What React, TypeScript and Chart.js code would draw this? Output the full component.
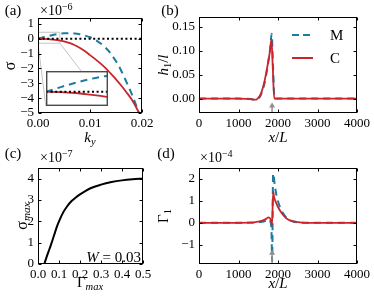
import React, { useEffect, useRef } from "react";
import { Chart, registerables } from "chart.js";

Chart.register(...registerables);

const W = 374;
const H = 299;
const FONT = "'Liberation Serif', 'Times New Roman', Times, serif";
const RED = "#c9252b";
const BLUE = "#1d7b9e";
const GREY_LINE = "#c4c4c4";
const ARROW_GREY = "#8e8e8e";

// ---------- Panel (a): sigma (x1e-6) vs k_y
const kY = [0, 0.001, 0.002, 0.003, 0.004, 0.005, 0.006, 0.007, 0.008, 0.009, 0.01, 0.011, 0.012, 0.013, 0.014, 0.015, 0.016, 0.017, 0.018, 0.019, 0.02];
const sigmaC = [0, -0.005, -0.025, -0.06, -0.1, -0.17, -0.28, -0.42, -0.6, -0.82, -1.1, -1.37, -1.66, -1.98, -2.35, -2.73, -3.15, -3.6, -4.08, -4.7, -5.4];
const sigmaM = [0, 0.1, 0.19, 0.27, 0.33, 0.37, 0.38, 0.36, 0.31, 0.22, 0.1, -0.07, -0.3, -0.6, -1.0, -1.52, -2.15, -2.9, -3.7, -4.6, -5.6];
const zeroLineK = [0, 0.02];
const kTicks = [0, 0.01, 0.02];
const sigmaTicks = [-5, -4, -3, -2, -1, 0, 1];
const zoomBoxK = [0, 0.0042];
const zoomBoxSigma = [-0.3, 0.44];
const insetK = [0.0015, 0.0135];
const insetSigma = [-4.53, -2.17];

// ---------- Panel (b): h1/l vs x/L
const xC_b = [0, 1000, 1200, 1300, 1400, 1450, 1500, 1550, 1600, 1650, 1700, 1750, 1800, 1833, 1870, 1905, 2000, 3000, 4000];
const h1C = [0, 0, -0.0005, -0.001, -0.0022, -0.002, 0.0015, 0.007, 0.018, 0.033, 0.053, 0.076, 0.101, 0.124, 0.06, 0, 0, 0, 0];
const xM_b = [0, 1000, 1200, 1300, 1400, 1450, 1500, 1550, 1600, 1650, 1700, 1750, 1800, 1840, 1875, 1910, 2000, 4000];
const h1M = [0, 0, -0.0005, -0.001, -0.0022, -0.002, 0, 0.005, 0.015, 0.029, 0.049, 0.074, 0.103, 0.135, 0.065, 0, 0, 0];
const xLTicks = [0, 1000, 2000, 3000, 4000];
const h1Ticks = [0, 0.05, 0.1, 0.15];
const arrowX = 1850;
const arrowB = [-0.03, -0.008];

// ---------- Panel (c): sigma_max (x1e-7) vs Gamma_max
const gammaMax = [0.03, 0.04, 0.05, 0.06, 0.07, 0.08, 0.09, 0.1, 0.12, 0.14, 0.16, 0.18, 0.2, 0.25, 0.3, 0.35, 0.4, 0.45, 0.5];
const sigmaMax = [0, 0.3, 0.58, 0.85, 1.15, 1.45, 1.75, 2.0, 2.42, 2.72, 2.95, 3.12, 3.26, 3.55, 3.72, 3.84, 3.92, 3.97, 4.0];
const gammaTicks = [0, 0.1, 0.2, 0.3, 0.4, 0.5];
const sigmaMaxTicks = [0, 1, 2, 3, 4];

// ---------- Panel (d): Gamma_1 (x1e-4) vs x/L
const xC_d = [0, 1000, 1300, 1400, 1500, 1600, 1700, 1760, 1800, 1830, 1848, 1878, 1900, 1950, 2000, 2100, 2200, 2300, 2400, 2500, 2700, 4000];
const gamma1C = [0, 0, 0.005, 0.02, 0.05, 0.1, 0.18, 0.25, 0.2, 0.05, -0.12, 1.42, 1.18, 0.92, 0.72, 0.42, 0.22, 0.11, 0.06, 0.03, 0, 0];
const xM_d = [0, 1000, 1400, 1600, 1700, 1780, 1810, 1835, 1852, 1876, 1920, 1960, 2000, 2050, 2100, 2170, 2250, 2380, 2500, 2700, 4000];
const gamma1M = [0, 0, 0.01, 0.05, 0.1, 0.15, 0.05, -0.4, -1.75, 2.25, 1.7, 1.25, 0.98, 0.72, 0.52, 0.33, 0.18, 0.06, 0.02, 0, 0];
const gamma1Ticks = [-1, 0, 1, 2];
const arrowD = [-1.88, -1.23];

type Area = { L: number; T: number; R: number; B: number };
const areaA: Area = { L: 38, T: 18, R: 142, B: 113 };
const areaB: Area = { L: 199, T: 17, R: 357, B: 113 };
const areaC: Area = { L: 38, T: 168, R: 143, B: 264 };
const areaD: Area = { L: 199, T: 168, R: 357, B: 264 };

const minus = (v: number) => (v < 0 ? "\u2212" + Math.abs(v) : String(v));

const pts = (xs: number[], ys: number[]) => xs.map((x, i) => ({ x, y: ys[i] }));

function ds(data: any[], color: string, width: number, dash: number[] = [], order = 1) {
  return {
    data,
    borderColor: color,
    borderWidth: width,
    borderDash: dash,
    pointRadius: 0,
    fill: false,
    cubicInterpolationMode: "monotone",
    clip: 0,
    order,
  };
}

function axis(isX: boolean, area: Area, min: number, max: number, ticks: number[], fmt: (v: number) => string) {
  return {
    type: "linear",
    position: isX ? "bottom" : "left",
    min,
    max,
    grid: { display: false, drawTicks: false },
    border: { display: false },
    ticks: {
      color: "#000",
      font: { family: FONT, size: 13 },
      padding: isX ? 3 : 4,
      maxRotation: 0,
      minRotation: 0,
      autoSkip: false,
      callback: (v: number) => fmt(v),
    },
    afterBuildTicks: (s: any) => {
      s.ticks = ticks.map((v) => ({ value: v }));
    },
    afterFit: (s: any) => {
      if (isX) s.height = H - area.B;
      else s.width = area.L;
    },
  };
}

function baseOptions(area: Area, x: any, y: any) {
  return {
    responsive: false,
    animation: false,
    devicePixelRatio: 1,
    events: [],
    layout: { padding: { left: 0, top: area.T, right: W - area.R, bottom: 0 } },
    plugins: { legend: { display: false }, tooltip: { enabled: false }, title: { display: false } },
    scales: { x, y },
  };
}

const boxPlugin = {
  id: "matlabBox",
  afterDraw(chart: any) {
    const { ctx, chartArea: a, scales } = chart;
    const l = Math.round(a.left) + 0.5;
    const r = Math.round(a.right) - 0.5;
    const t = Math.round(a.top) + 0.5;
    const b = Math.round(a.bottom) - 0.5;
    const tl = 3;
    ctx.save();
    ctx.strokeStyle = "#000";
    ctx.lineWidth = 1;
    ctx.setLineDash([]);
    ctx.strokeRect(l, t, r - l, b - t);
    ctx.beginPath();
    scales.x.ticks.forEach((tk: any) => {
      const p = Math.round(scales.x.getPixelForValue(tk.value)) + 0.5;
      ctx.moveTo(p, b);
      ctx.lineTo(p, b - tl);
      ctx.moveTo(p, t);
      ctx.lineTo(p, t + tl);
    });
    scales.y.ticks.forEach((tk: any) => {
      const p = Math.round(scales.y.getPixelForValue(tk.value)) + 0.5;
      ctx.moveTo(l, p);
      ctx.lineTo(l + tl, p);
      ctx.moveTo(r, p);
      ctx.lineTo(r - tl, p);
    });
    ctx.stroke();
    ctx.restore();
  },
};

function arrowPlugin(xVal: number, yRange: number[]) {
  return {
    id: "arrow",
    afterDatasetsDraw(chart: any) {
      const { ctx, scales } = chart;
      const px = scales.x.getPixelForValue(xVal);
      const p0 = scales.y.getPixelForValue(yRange[0]);
      const p1 = scales.y.getPixelForValue(yRange[1]);
      ctx.save();
      ctx.strokeStyle = ARROW_GREY;
      ctx.fillStyle = ARROW_GREY;
      ctx.lineWidth = 1.5;
      ctx.beginPath();
      ctx.moveTo(px, p0);
      ctx.lineTo(px, p1 + 4);
      ctx.stroke();
      ctx.beginPath();
      ctx.moveTo(px, p1);
      ctx.lineTo(px - 3, p1 + 5);
      ctx.lineTo(px + 3, p1 + 5);
      ctx.closePath();
      ctx.fill();
      ctx.restore();
    },
  };
}

const legendItems = [
  { label: "M", color: BLUE, dash: [7, 4], dy: 18 },
  { label: "C", color: RED, dash: [] as number[], dy: 41 },
];

const legendPlugin = {
  id: "legendB",
  afterDraw(chart: any) {
    const { ctx, chartArea: a } = chart;
    ctx.save();
    legendItems.forEach((it) => {
      ctx.beginPath();
      ctx.setLineDash(it.dash);
      ctx.strokeStyle = it.color;
      ctx.lineWidth = 2;
      ctx.moveTo(a.left + 93, a.top + it.dy);
      ctx.lineTo(a.left + 114, a.top + it.dy);
      ctx.stroke();
      ctx.setLineDash([]);
      ctx.fillStyle = "#000";
      ctx.font = `15px ${FONT}`;
      ctx.textBaseline = "middle";
      ctx.textAlign = "left";
      ctx.fillText(it.label, a.left + 131, a.top + it.dy + 1);
    });
    ctx.restore();
  },
};

const insetFramePlugin = {
  id: "insetFrame",
  beforeDraw(chart: any) {
    const { ctx, width, height } = chart;
    ctx.save();
    ctx.fillStyle = "#fff";
    ctx.fillRect(0, 0, width, height);
    ctx.restore();
  },
  afterDraw(chart: any) {
    const { ctx, width, height } = chart;
    ctx.save();
    ctx.strokeStyle = "#4a4a4a";
    ctx.lineWidth = 1.4;
    ctx.strokeRect(0.7, 0.7, width - 1.4, height - 1.4);
    ctx.restore();
  },
};

type LabelProps = {
  x: number;
  y: number;
  rot?: boolean;
  anchor?: "left" | "center" | "right";
  size?: number;
  children: React.ReactNode;
};

function Label({ x, y, rot, anchor = "center", size = 15, children }: LabelProps) {
  const tx = anchor === "left" ? "0" : anchor === "right" ? "-100%" : "-50%";
  return (
    <div
      style={{
        position: "absolute",
        left: x,
        top: y,
        transform: `translate(${tx}, -50%)${rot ? " rotate(-90deg)" : ""}`,
        fontFamily: FONT,
        fontSize: size,
        lineHeight: 1,
        whiteSpace: "nowrap",
        color: "#000",
      }}
    >
      {children}
    </div>
  );
}

const Sub = ({ children }: { children: React.ReactNode }) => (
  <span style={{ fontSize: "0.7em", position: "relative", top: "0.3em" }}>{children}</span>
);
const Sup = ({ children }: { children: React.ReactNode }) => (
  <span style={{ fontSize: "0.72em", position: "relative", top: "-0.5em" }}>{children}</span>
);

export default function App() {
  const refA = useRef<HTMLCanvasElement>(null);
  const refInset = useRef<HTMLCanvasElement>(null);
  const refB = useRef<HTMLCanvasElement>(null);
  const refC = useRef<HTMLCanvasElement>(null);
  const refD = useRef<HTMLCanvasElement>(null);

  useEffect(() => {
    const charts: Chart[] = [];

    // Panel (a)
    const chartA = new Chart(refA.current as HTMLCanvasElement, {
      type: "line",
      data: {
        datasets: [
          ds(pts(zeroLineK, [0, 0]), "#000", 2, [2, 2.6], 0),
          ds(pts(kY, sigmaC), RED, 1.8, [], 1),
          ds(pts(kY, sigmaM), BLUE, 2, [7, 5], 2),
          ds(
            [
              { x: zoomBoxK[0], y: zoomBoxSigma[1] },
              { x: zoomBoxK[1], y: zoomBoxSigma[1] },
              { x: zoomBoxK[1], y: zoomBoxSigma[0] },
              { x: zoomBoxK[0], y: zoomBoxSigma[0] },
            ],
            GREY_LINE,
            1,
            [],
            5
          ),
          ds(pts([zoomBoxK[0], insetK[0]], [zoomBoxSigma[0], insetSigma[0]]), GREY_LINE, 1, [], 5),
          ds(pts([zoomBoxK[1], insetK[1]], [zoomBoxSigma[0], insetSigma[0]]), GREY_LINE, 1, [], 5),
        ] as any,
      },
      options: baseOptions(
        areaA,
        axis(true, areaA, 0, 0.02, kTicks, (v) => v.toFixed(2)),
        axis(false, areaA, -5, 1.4, sigmaTicks, minus)
      ) as any,
      plugins: [boxPlugin],
    });
    charts.push(chartA);

    // Inset of (a), placed through the main chart's scales
    const sx = chartA.scales.x;
    const sy = chartA.scales.y;
    const il = Math.round(sx.getPixelForValue(insetK[0]));
    const ir = Math.round(sx.getPixelForValue(insetK[1]));
    const it = Math.round(sy.getPixelForValue(insetSigma[1]));
    const ib = Math.round(sy.getPixelForValue(insetSigma[0]));
    const ic = refInset.current as HTMLCanvasElement;
    ic.width = ir - il;
    ic.height = ib - it;
    ic.style.left = il + "px";
    ic.style.top = it + "px";
    const chartInset = new Chart(ic, {
      type: "line",
      data: {
        datasets: [
          ds(pts(zeroLineK, [0, 0]), "#000", 2, [2, 2.6], 0),
          ds(pts(kY, sigmaC), RED, 1.8, [], 1),
          ds(pts(kY, sigmaM), BLUE, 2, [7, 5], 2),
        ] as any,
      },
      options: {
        responsive: false,
        animation: false,
        devicePixelRatio: 1,
        events: [],
        layout: { padding: 0 },
        plugins: { legend: { display: false }, tooltip: { enabled: false } },
        scales: {
          x: { type: "linear", display: false, min: zoomBoxK[0], max: zoomBoxK[1] },
          y: { type: "linear", display: false, min: zoomBoxSigma[0], max: zoomBoxSigma[1] },
        },
      } as any,
      plugins: [insetFramePlugin],
    });
    charts.push(chartInset);

    // Panel (b)
    charts.push(
      new Chart(refB.current as HTMLCanvasElement, {
        type: "line",
        data: {
          datasets: [ds(pts(xC_b, h1C), RED, 1.8, [], 1), ds(pts(xM_b, h1M), BLUE, 2, [7, 5], 2)] as any,
        },
        options: baseOptions(
          areaB,
          axis(true, areaB, 0, 4000, xLTicks, (v) => String(v)),
          axis(false, areaB, -0.03, 0.17, h1Ticks, (v) => v.toFixed(2))
        ) as any,
        plugins: [arrowPlugin(arrowX, arrowB), boxPlugin, legendPlugin],
      })
    );

    // Panel (c)
    charts.push(
      new Chart(refC.current as HTMLCanvasElement, {
        type: "line",
        data: { datasets: [ds(pts(gammaMax, sigmaMax), "#000", 2, [], 1)] as any },
        options: baseOptions(
          areaC,
          axis(true, areaC, 0, 0.5, gammaTicks, (v) => v.toFixed(1)),
          axis(false, areaC, 0, 4.5, sigmaMaxTicks, minus)
        ) as any,
        plugins: [boxPlugin],
      })
    );

    // Panel (d)
    charts.push(
      new Chart(refD.current as HTMLCanvasElement, {
        type: "line",
        data: {
          datasets: [ds(pts(xC_d, gamma1C), RED, 1.8, [], 1), ds(pts(xM_d, gamma1M), BLUE, 2, [7, 5], 2)] as any,
        },
        options: baseOptions(
          areaD,
          axis(true, areaD, 0, 4000, xLTicks, (v) => String(v)),
          axis(false, areaD, -1.88, 2.5, gamma1Ticks, minus)
        ) as any,
        plugins: [arrowPlugin(arrowX, arrowD), boxPlugin],
      })
    );

    return () => charts.forEach((c) => c.destroy());
  }, []);

  const cv = { position: "absolute" as const, left: 0, top: 0 };

  return (
    <div style={{ position: "fixed", left: 0, top: 0, width: W, height: H, background: "#fff", overflow: "hidden" }}>
      <canvas ref={refA} width={W} height={H} style={cv} />
      <canvas ref={refInset} width={10} height={10} style={{ position: "absolute", left: 0, top: 0 }} />
      <canvas ref={refB} width={W} height={H} style={cv} />
      <canvas ref={refC} width={W} height={H} style={cv} />
      <canvas ref={refD} width={W} height={H} style={cv} />

      <Label x={13} y={10}>(a)</Label>
      <Label x={40} y={11} anchor="left" size={14}>
        ×10<Sup>−6</Sup>
      </Label>
      <Label x={10} y={66} rot size={16}>σ</Label>
      <Label x={90} y={137}>
        <i>k</i>
        <Sub>
          <i>y</i>
        </Sub>
      </Label>

      <Label x={170} y={10}>(b)</Label>
      <Label x={163} y={65} rot>
        <i>h</i>
        <Sub>1</Sub>/<i>l</i>
      </Label>
      <Label x={278} y={137}>
        <i>x</i>/<i>L</i>
      </Label>

      <Label x={13} y={153}>(c)</Label>
      <Label x={40} y={158} anchor="left" size={14}>
        ×10<Sup>−7</Sup>
      </Label>
      <Label x={22} y={216} rot size={16}>
        σ
        <Sub>
          <i>max</i>
        </Sub>
      </Label>
      <Label x={90} y={282}>
        Γ
        <Sub>
          <i>max</i>
        </Sub>
      </Label>
      <Label x={141} y={257} anchor="right">
        <i>W</i> = 0.03
      </Label>

      <Label x={166} y={153}>(d)</Label>
      <Label x={200} y={158} anchor="left" size={14}>
        ×10<Sup>−4</Sup>
      </Label>
      <Label x={163} y={216} rot>
        Γ<Sub>1</Sub>
      </Label>
      <Label x={278} y={283}>
        <i>x</i>/<i>L</i>
      </Label>
    </div>
  );
}
